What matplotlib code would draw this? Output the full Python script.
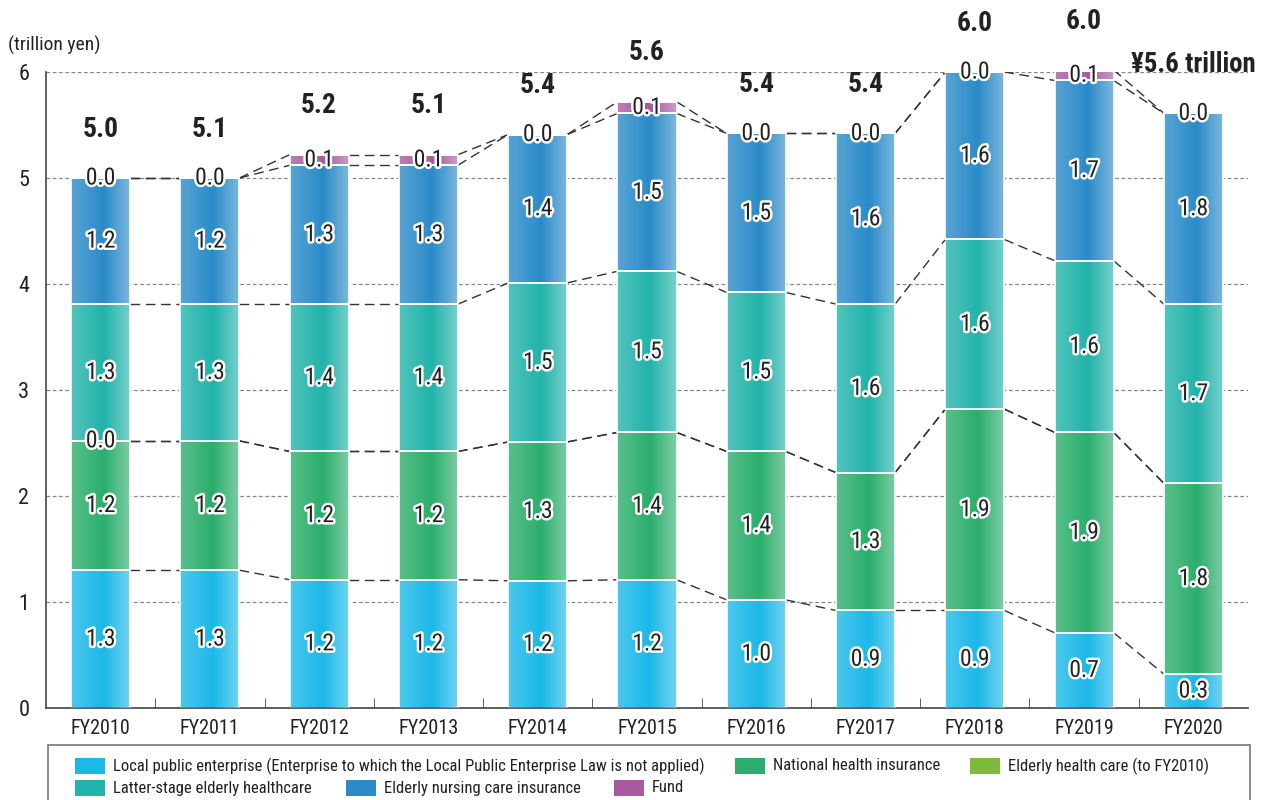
import matplotlib
matplotlib.use("Agg")
import matplotlib.pyplot as plt
import matplotlib.patheffects as pe
from matplotlib.patches import Rectangle
import numpy as np

plt.rcParams["font.family"] = ["Roboto Condensed", "Open Sans Condensed", "DejaVu Sans"]
plt.rcParams["font.stretch"] = "condensed"

years = ["FY2010", "FY2011", "FY2012", "FY2013", "FY2014", "FY2015",
         "FY2016", "FY2017", "FY2018", "FY2019", "FY2020"]
local_ent = [1.30, 1.30, 1.21, 1.21, 1.20, 1.21, 1.02, 0.92, 0.92, 0.71, 0.32]
national_hi = [1.22, 1.22, 1.21, 1.21, 1.31, 1.39, 1.40, 1.30, 1.90, 1.89, 1.80]
elderly_hc = [0.0, None, None, None, None, None, None, None, None, None, None]
latter_stage = [1.29, 1.29, 1.39, 1.39, 1.50, 1.52, 1.50, 1.59, 1.60, 1.62, 1.69]
nursing_care = [1.19, 1.19, 1.31, 1.31, 1.40, 1.49, 1.50, 1.61, 1.58, 1.70, 1.80]
fund = [0.0, 0.0, 0.10, 0.10, 0.0, 0.11, 0.0, 0.0, 0.0, 0.10, 0.0]
totals = ["5.0", "5.1", "5.2", "5.1", "5.4", "5.6", "5.4", "5.4", "6.0", "6.0", "¥5.6 trillion"]

series = [
    ("Local public enterprise (Enterprise to which the Local Public Enterprise Law is not applied)", local_ent, "#1BB8E8"),
    ("National health insurance", national_hi, "#2BAE6B"),
    ("Elderly health care (to FY2010)", elderly_hc, "#7DBA3C"),
    ("Latter-stage elderly healthcare", latter_stage, "#22B3AA"),
    ("Elderly nursing care insurance", nursing_care, "#2A8BC8"),
    ("Fund", fund, "#A85AA0"),
]

fig = plt.figure(figsize=(12.66, 8), dpi=100)
ax = fig.add_axes([46 / 1266, 92 / 800, 1202 / 1266, 636 / 800])
renderer = fig.canvas.get_renderer()


def fit_width(txt, target):
    # shrink a text until it is no wider than target pixels
    w = txt.get_window_extent(renderer).width
    if w > target:
        txt.set_fontsize(txt.get_fontsize() * target / w)
    return txt.get_fontsize()


x = np.arange(len(years))
width = 0.54
bottom = np.zeros(len(years))
levels = []
outline = [pe.withStroke(linewidth=3.5, foreground="white")]

for name, vals, color in series:
    v = np.array([0.0 if a is None else a for a in vals])
    ax.bar(x, v, width, bottom=bottom, color=color, edgecolor="white",
           linewidth=1.2, zorder=2)
    for i, a in enumerate(vals):
        if a is None:
            continue
        t = ax.text(x[i], bottom[i] + a / 2, f"{a:.1f}", ha="center", va="center",
                    fontsize=17, color="#222222", zorder=6, path_effects=outline)
        fit_width(t, 30)
    bottom = bottom + v
    levels.append(bottom.copy())

# light edges on each bar column
tt = np.linspace(0, 1, 80)
alpha = np.interp(tt, [0, 0.55, 1], [0.22, 0.0, 0.4])
shade = np.ones((1, len(tt), 4))
shade[0, :, 3] = alpha
for i in range(len(years)):
    ax.imshow(shade, extent=[x[i] - width / 2, x[i] + width / 2, 0, bottom[i]],
              aspect="auto", zorder=3, interpolation="bilinear")
# segment borders over the shading
for lv in levels:
    for i in range(len(years)):
        ax.plot([x[i] - width / 2, x[i] + width / 2], [lv[i], lv[i]],
                color="white", lw=1.2, zorder=3.5)

# dashed connectors between bars
for lv in levels:
    for i in range(len(years) - 1):
        ax.plot([x[i] + width / 2, x[i + 1] - width / 2], [lv[i], lv[i + 1]],
                color="#333333", lw=1, ls=(0, (7, 4)), zorder=2.5)

for i, s in enumerate(totals):
    t = ax.text(x[i], bottom[i] + 0.46, s, ha="center", va="center", fontsize=20,
                fontweight="bold", color="#222222", clip_on=False, zorder=6)
    fit_width(t, 125 if len(s) > 4 else 36)

ax.set_xlim(-0.5, len(years) - 0.5)
ax.set_ylim(0, 6)
ax.set_yticks(range(7))
ax.yaxis.grid(True, color="#888888", lw=0.9, ls=(0, (3, 2)), zorder=0)
ax.set_axisbelow(True)
ax.tick_params(axis="y", length=0, labelsize=16, pad=12, colors="#222222")
ax.set_xticks(x)
ax.set_xticklabels(years)
ax.set_xticks(x[:-1] + 0.5, minor=True)
ax.tick_params(axis="x", which="major", length=0, labelsize=15.5, pad=8, colors="#222222")
ax.tick_params(axis="x", which="minor", direction="in", length=7, color="#444444")
for side in ["top", "right"]:
    ax.spines[side].set_visible(False)
for side in ["left", "bottom"]:
    ax.spines[side].set_color("#444444")
    ax.spines[side].set_linewidth(1.2)
for lab in ax.get_xticklabels():
    fit_width(lab, 60)

t = fig.text(8 / 1266, 1 - 45 / 800, "(trillion yen)", fontsize=14, va="center",
             ha="left", color="#222222")
fit_width(t, 95)

# legend box
fig.patches.append(Rectangle((48 / 1266, -0.05), (1250 - 48) / 1266, 0.05 + 55 / 800,
                             transform=fig.transFigure, fill=False,
                             edgecolor="#777777", lw=1.2))
legend_pos = [(75, 766, 594), (735, 766, 168), (970, 766, 206),
              (75, 788, 205), (346, 788, 204), (614, 788, 37)]
legend_texts = []
for (name, vals, color), (px, py, tw) in zip(series, legend_pos):
    fig.patches.append(Rectangle((px / 1266, 1 - (py + 8) / 800), 30 / 1266, 16 / 800,
                                 transform=fig.transFigure, facecolor=color,
                                 edgecolor="none"))
    t = fig.text((px + 38) / 1266, 1 - py / 800, name, fontsize=14, va="center",
                 ha="left", color="#222222")
    legend_texts.append((t, tw))
legend_size = min(fit_width(t, tw) for t, tw in legend_texts)
for t, tw in legend_texts:
    t.set_fontsize(legend_size)

fig.savefig("out.png", dpi=100)
